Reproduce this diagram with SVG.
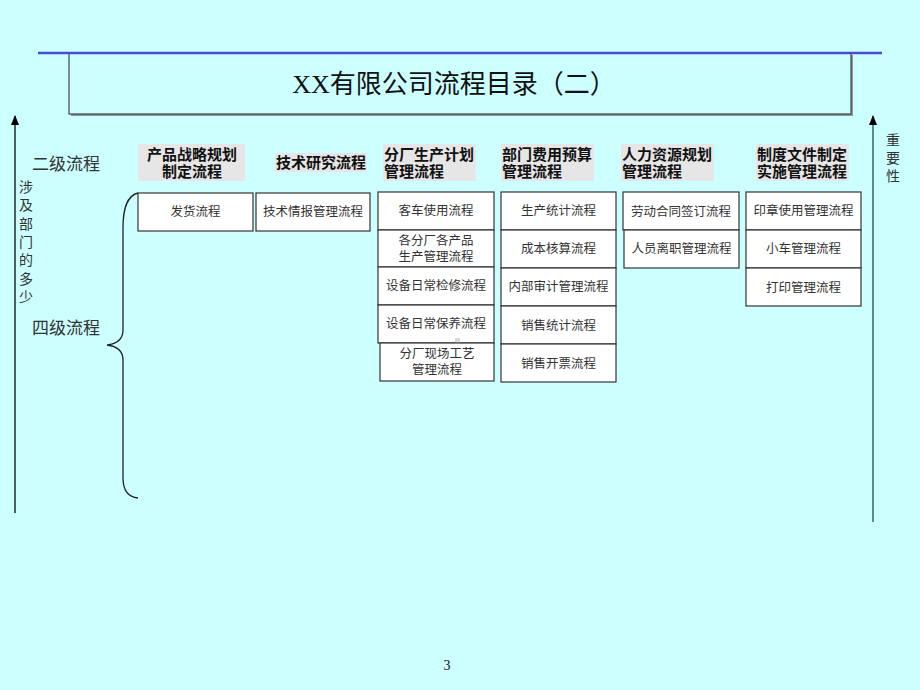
<svg xmlns="http://www.w3.org/2000/svg" width="920" height="690" viewBox="0 0 920 690">
<defs>
<marker id="arr" markerWidth="10" markerHeight="8" refX="9" refY="4" orient="auto" markerUnits="userSpaceOnUse" viewBox="0 0 10 8">
<path d="M0,0 L10,4 L0,8 Z" fill="#000"/>
</marker>
<style>
.bx{fill:#fff;stroke:#333;stroke-width:1.2}
.bt{font-family:"Liberation Serif","Noto Sans CJK SC",serif;font-size:12.5px;fill:#333;text-anchor:middle}
.hb{fill:#e6e6e6}
.ht{font-family:"Liberation Sans","Noto Sans CJK SC",sans-serif;font-size:15px;font-weight:bold;fill:#111}
.side{font-family:"Liberation Serif","Noto Sans CJK SC",serif;fill:#333}
.ser{font-family:"Liberation Serif","Noto Sans CJK SC",serif;fill:#111}
</style>
</defs>
<rect x="0" y="0" width="920" height="690" fill="#ccffff"/>

<g id="title">
<rect x="71" y="55" width="782" height="61" fill="#8a9a9a"/>
<rect x="69" y="53" width="782" height="61" fill="#ccffff" stroke="#444" stroke-width="1.2"/>
<line x1="38" y1="53" x2="882" y2="53" stroke="#4a4ad8" stroke-width="2.5"/>
<text class="ser" x="454" y="93" font-size="26" text-anchor="middle">XX有限公司流程目录（二）</text>
</g>

<g id="axes">
<line x1="15" y1="513" x2="15" y2="116" stroke="#1a2a2a" stroke-width="1.5" marker-end="url(#arr)"/>
<line x1="873" y1="522" x2="873" y2="116" stroke="#5f8a8f" stroke-width="2" marker-end="url(#arr)"/>
<text class="side" x="66" y="170" font-size="17" text-anchor="middle">二级流程</text>
<text class="side" x="66" y="334" font-size="17" text-anchor="middle">四级流程</text>
<g class="side" font-size="14" text-anchor="middle">
<text x="26" y="192">涉</text>
<text x="26" y="210">及</text>
<text x="26" y="229">部</text>
<text x="26" y="247">门</text>
<text x="26" y="265">的</text>
<text x="26" y="284">多</text>
<text x="26" y="302">少</text>
<text x="893" y="145">重</text>
<text x="893" y="163">要</text>
<text x="893" y="181">性</text>
</g>
<path d="M138,193 C126,196 123,210 123,228 L123,330 C123,340 115,344 107,345 C115,346 123,350 123,360 L123,478 C123,490 128,497 138,498" fill="none" stroke="#222" stroke-width="1.3"/>
</g>

<g id="headers">
<rect class="hb" x="138" y="144" width="107" height="37"/>
<text class="ht" x="192" y="160" text-anchor="middle">产品战略规划</text>
<text class="ht" x="192" y="177" text-anchor="middle">制定流程</text>
<rect class="hb" x="275" y="153" width="92" height="19"/>
<text class="ht" x="321" y="168" text-anchor="middle">技术研究流程</text>
<rect class="hb" x="383" y="144" width="93" height="37"/>
<text class="ht" x="384" y="160">分厂生产计划</text>
<text class="ht" x="384" y="177">管理流程</text>
<rect class="hb" x="501" y="144" width="93" height="37"/>
<text class="ht" x="502" y="160">部门费用预算</text>
<text class="ht" x="502" y="177">管理流程</text>
<rect class="hb" x="621" y="144" width="93" height="37"/>
<text class="ht" x="622" y="160">人力资源规划</text>
<text class="ht" x="622" y="177">管理流程</text>
<rect class="hb" x="756" y="144" width="93" height="37"/>
<text class="ht" x="757" y="160">制度文件制定</text>
<text class="ht" x="757" y="177">实施管理流程</text>
</g>

<g id="col1">
<rect class="bx" x="138" y="193" width="115" height="38"/>
<text class="bt" x="195.5" y="216">发货流程</text>
</g>
<g id="col2">
<rect class="bx" x="256" y="193" width="114" height="38"/>
<text class="bt" x="313" y="216">技术情报管理流程</text>
</g>
<g id="col3">
<rect class="bx" x="378" y="192" width="116" height="38"/>
<text class="bt" x="436" y="215">客车使用流程</text>
<rect class="bx" x="378" y="230" width="116" height="37"/>
<text class="bt" x="436" y="245">各分厂各产品</text>
<text class="bt" x="436" y="261">生产管理流程</text>
<rect class="bx" x="378" y="267" width="116" height="38"/>
<text class="bt" x="436" y="290">设备日常检修流程</text>
<rect class="bx" x="378" y="305" width="116" height="38"/>
<text class="bt" x="436" y="328">设备日常保养流程</text>
<rect x="455" y="338" width="5" height="5" fill="#d8d8d8"/>
<rect class="bx" x="380" y="343" width="114" height="38"/>
<text class="bt" x="437" y="358">分厂现场工艺</text>
<text class="bt" x="437" y="374">管理流程</text>
</g>
<g id="col4">
<rect class="bx" x="501" y="192" width="115" height="38"/>
<text class="bt" x="558.5" y="215">生产统计流程</text>
<rect class="bx" x="501" y="230" width="115" height="38"/>
<text class="bt" x="558.5" y="253">成本核算流程</text>
<rect class="bx" x="501" y="268" width="115" height="38"/>
<text class="bt" x="558.5" y="291">内部审计管理流程</text>
<rect class="bx" x="501" y="306" width="115" height="38"/>
<text class="bt" x="558.5" y="330">销售统计流程</text>
<rect class="bx" x="501" y="344" width="115" height="38"/>
<text class="bt" x="558.5" y="368">销售开票流程</text>
</g>
<g id="col5">
<rect class="bx" x="623" y="192" width="116" height="38"/>
<text class="bt" x="681" y="216">劳动合同签订流程</text>
<rect class="bx" x="624" y="230" width="115" height="38"/>
<text class="bt" x="681.5" y="253">人员离职管理流程</text>
</g>
<g id="col6">
<rect class="bx" x="746" y="192" width="115" height="38"/>
<text class="bt" x="803.5" y="215">印章使用管理流程</text>
<rect class="bx" x="746" y="230" width="115" height="38"/>
<text class="bt" x="803.5" y="253">小车管理流程</text>
<rect class="bx" x="746" y="268" width="115" height="38"/>
<text class="bt" x="803.5" y="292">打印管理流程</text>
</g>

<text class="ser" x="447" y="670" font-size="14" text-anchor="middle">3</text>
</svg>
